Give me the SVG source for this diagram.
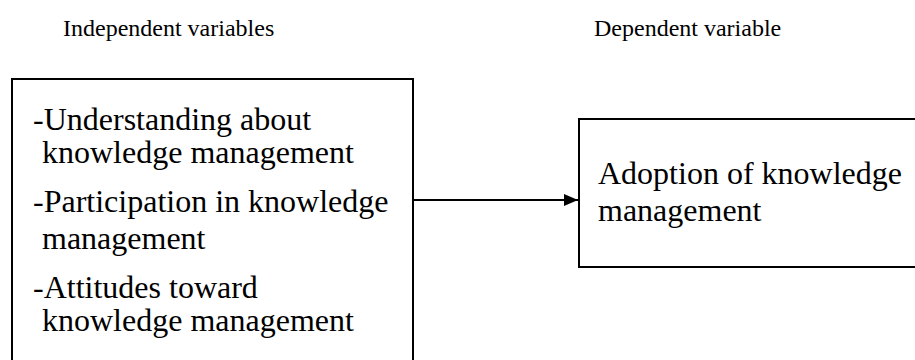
<svg xmlns="http://www.w3.org/2000/svg" width="915" height="360" viewBox="0 0 915 360">
<style>
.t{font-family:"Liberation Serif","Times New Roman",serif;fill:#000}
.h{font-size:24px}
.b{font-size:32px}
.box{fill:#fff;stroke:#000;stroke-width:2}
.c{stroke:#000;stroke-width:2;fill:none}
</style>
<defs>
<marker id="ah" markerWidth="14" markerHeight="12" refX="14" refY="6" orient="auto" markerUnits="userSpaceOnUse">
<path d="M0,0 L14,6 L0,12 Z" fill="#000"/>
</marker>
</defs>
<rect width="915" height="360" fill="#fff"/>
<text class="t h" x="63" y="36">Independent variables</text>
<text class="t h" x="594" y="36">Dependent variable</text>
<g id="independent">
<rect class="box" x="12" y="79" width="401" height="300"/>
<text class="t b" x="33" y="130">-Understanding about</text>
<text class="t b" x="42" y="163">knowledge management</text>
<text class="t b" x="33" y="212">-Participation in knowledge</text>
<text class="t b" x="42" y="249">management</text>
<text class="t b" x="33" y="298">-Attitudes toward</text>
<text class="t b" x="42" y="331">knowledge management</text>
</g>
<g id="dependent">
<rect class="box" x="579" y="119" width="350" height="148"/>
<text class="t b" x="598" y="184">Adoption of knowledge</text>
<text class="t b" x="598" y="221">management</text>
</g>
<g id="connectors">
<line class="c" x1="413" y1="200" x2="578" y2="200" marker-end="url(#ah)"/>
</g>
</svg>
